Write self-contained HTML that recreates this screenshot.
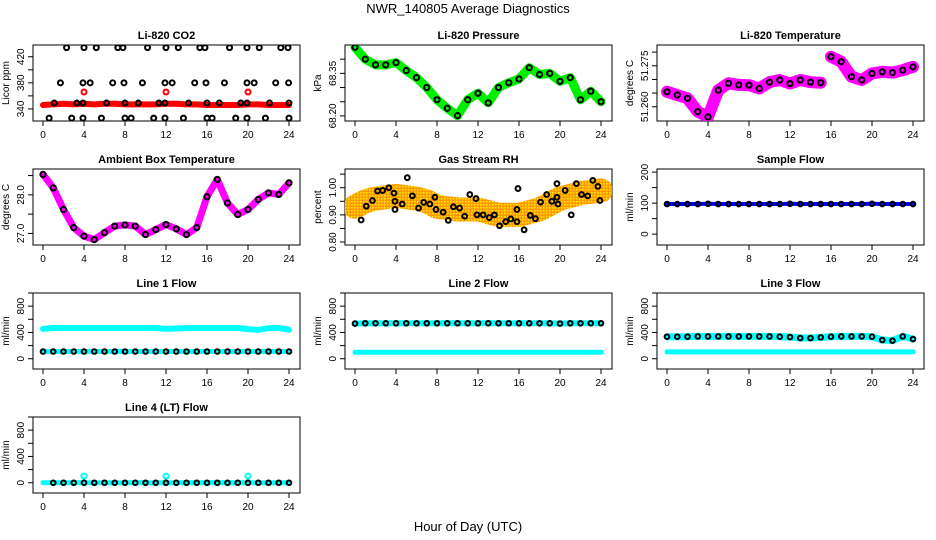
<!DOCTYPE html>
<html><head><meta charset="utf-8"><style>
html,body{margin:0;padding:0;background:#fff;}
svg{display:block;font-family:"Liberation Sans",Arial,sans-serif;}
</style></head><body>
<svg id="c" width="936" height="540" viewBox="0 0 936 540" xmlns="http://www.w3.org/2000/svg">
<defs>
<pattern id="rhpat" width="3" height="3" patternUnits="userSpaceOnUse"><rect width="3" height="3" fill="#ff9900"/><rect x="0" y="0" width="1.5" height="1.5" fill="#ffee00"/></pattern>
</defs>
<text x="468" y="13" text-anchor="middle" font-size="13">NWR_140805  Average Diagnostics</text>
<text x="468" y="531" text-anchor="middle" font-size="13">Hour of Day (UTC)</text>
</svg>
<script>
// ---- data ----
const hrs = [0,1,2,3,4,5,6,7,8,9,10,11,12,13,14,15,16,17,18,19,20,21,22,23,24];
const xTicks = [0,4,8,12,16,20,24];
// CO2
const co2Red = [346,347,348,347,348,347,348,348,347,347,347,347,348,348,347,347,346,346,346,346,347,347,346,346,346];
const co2BlkX = [2.3,4.0,5.2,7.3,7.8,10.2,12.0,13.2,15.3,15.8,18.2,19.9,21.1,23.2,23.9, 1.7,3.9,4.6,6.8,7.9,9.7,11.9,12.6,14.8,15.9,17.7,19.9,20.6,22.7,23.96, 0.6,2.8,3.9,5.7,8.0,8.6,10.8,11.9,13.7,16.0,16.5,18.8,19.9,21.7,24, 1.1,3.3,3.9,6.2,8,9.3,11.3,11.9,14.2,16,17.2,19.3,19.9,22.1,24];
const co2BlkY = [434,434,434,434,434,434,434,434,434,434,434,434,434,434,434, 380,380,380,380,380,380,380,380,380,380,380,380,380,380,380, 326,326,326,326,326,326,326,326,326,326,326,326,326,326,326, 349,349,349,349,349,349,349,349,349,349,349,349,349,349,349];
const co2RedPtX = [4,12,20];
const co2RedPtY = [366,366,366];
// Pressure
const pres = [68.442,68.40,68.38,68.38,68.388,68.36,68.335,68.30,68.257,68.227,68.201,68.257,68.28,68.246,68.30,68.317,68.33,68.37,68.346,68.35,68.322,68.335,68.257,68.287,68.25];
// Li-820 temperature
const ltemp = [51.2655,51.2643,51.2631,51.2582,51.2563,51.2661,51.2686,51.2680,51.2679,51.2667,51.2690,51.2698,51.2685,51.2698,51.2690,51.2688,51.2783,51.2765,51.2710,51.2698,51.2722,51.2728,51.2725,51.2734,51.2746];
// Ambient box temperature
const amb = [28.53,28.18,27.62,27.15,26.93,26.84,27.02,27.19,27.22,27.19,26.97,27.10,27.23,27.12,26.97,27.15,27.95,28.40,27.79,27.49,27.62,27.88,28.05,28.01,28.31];
// Gas stream RH
const rhMid = [0.93,0.95,0.96,0.965,0.97,0.965,0.96,0.95,0.93,0.925,0.92,0.92,0.92,0.91,0.90,0.90,0.90,0.91,0.92,0.94,0.96,0.97,0.98,0.985,0.99];
const rhBlkX = [0.6,1.1,1.7,2.2,2.7,3.3,3.8,3.9,3.9,4.6,5.1,5.6,6.2,6.7,7.3,7.8,7.9,8.6,9.1,9.6,10.2,10.7,11.2,11.8,11.9,12.5,13.1,13.6,14.1,14.7,15.2,15.8,15.9,15.8,16.5,17.1,17.6,18.1,18.7,19.2,19.7,19.7,19.8,20.5,21.1,21.6,22.1,22.7,23.2,23.7,23.9];
const rhBlkY = [0.881,0.932,0.953,0.988,0.99,1.00,0.98,0.92,0.95,0.94,1.037,0.97,0.925,0.946,0.94,0.965,0.92,0.91,0.88,0.93,0.925,0.895,0.975,0.96,0.90,0.90,0.89,0.90,0.86,0.875,0.885,0.92,0.997,0.875,0.845,0.898,0.886,0.947,0.975,0.95,1.015,0.965,0.94,0.99,0.90,1.015,0.975,0.97,1.027,1.005,0.953];
// Flows
const sampleFlow = [97,97,97,97,98,97,97,97,97,97,97,97,98,97,97,97,97,97,97,97,98,97,97,97,97];
const line1Hi = [455,468,468,468,468,468,468,468,468,468,468,468,455,460,465,468,468,468,468,468,450,440,465,470,440];
const line1Lo = [109,110,110,110,110,110,110,110,110,110,110,110,110,110,110,110,110,110,110,110,110,110,110,110,110];
const line2Hi = [535,540,540,540,540,540,540,540,540,540,540,540,540,540,540,540,540,540,540,540,535,540,540,540,540];
const line2Lo = [99,99,99,99,99,99,99,99,99,99,99,99,99,99,99,99,99,99,99,99,99,99,99,99,99];
const line3Hi = [335,335,335,340,340,340,340,340,340,340,340,335,330,315,315,325,335,340,340,340,335,285,275,340,300];
const line3Lo = [104,104,104,104,104,104,104,104,104,104,104,104,104,104,104,104,104,104,104,104,104,104,104,104,104];
const line4 = [0,0,0,0,0,0,0,0,0,0,0,0,0,0,0,0,0,0,0,0,0,0,0,0,0];
const line4SpikeX = [4,12,20];
const line4SpikeY = [100,100,100];
const flowTicks = [0,200,400,600,800,1000];
const flowLabels = [0,400,800];

// ---- drawing ----
const svg = document.getElementById('c');
const NS = 'http://www.w3.org/2000/svg';
function mk(tag, attrs, parent){
  const e = document.createElementNS(NS, tag);
  for (const k in attrs) e.setAttribute(k, attrs[k]);
  (parent||svg).appendChild(e);
  return e;
}
const colL = [33,345,657], rowT = [45,169,293,417], W = 267, H = 76;

function panel(col,row,title,ylab,ymin,ymax,yticks,ylabels,name){
  const L = colL[col], T = rowT[row], B = T+H, R = L+W;
  const g = mk('g',{});
  
  
  const sx = h => L + 10 + h*(W-21)/24;
  const sy = v => B - (v-ymin)/(ymax-ymin)*H;
  const box = mk('rect',{x:L,y:T,width:W,height:H,fill:'none',stroke:'#000','stroke-width':1},g);
  
  
  const t = mk('text',{x:L+W/2,y:T-6,'text-anchor':'middle','font-size':11,'font-weight':'bold'},g);
  t.textContent = title;
  
  
  const xa = mk('g',{},g);
  
  
  mk('line',{x1:sx(0),x2:sx(24),y1:B,y2:B,stroke:'#000'},xa);
  xTicks.forEach(h=>{
    mk('line',{x1:sx(h),x2:sx(h),y1:B,y2:B+5,stroke:'#000'},xa);
    const tl = mk('text',{x:sx(h),y:B+17,'text-anchor':'middle','font-size':10},xa);
    tl.textContent = h;
    
    
  });
  const ya = mk('g',{},g);
  
  
  mk('line',{x1:L,x2:L,y1:sy(yticks[0]),y2:sy(yticks[yticks.length-1]),stroke:'#000'},ya);
  yticks.forEach(v=>{ mk('line',{x1:L-5,x2:L,y1:sy(v),y2:sy(v),stroke:'#000'},ya); });
  ylabels.forEach(lb=>{
    const y = sy(lb.v);
    const tl = mk('text',{x:L-9,y:y,'text-anchor':'middle','font-size':10,transform:`rotate(-90 ${L-9} ${y})`},ya);
    tl.textContent = lb.s;
    
    
  });
  const yl = mk('text',{x:L-24,y:T+H/2,'text-anchor':'middle','font-size':10,transform:`rotate(-90 ${L-24} ${T+H/2})`},g);
  yl.textContent = ylab;
  
  
  const clip = 'clip'+name;
  const cp = mk('clipPath',{id:clip},g); mk('rect',{x:L,y:T,width:W,height:H},cp);
  const plot = mk('g',{'clip-path':`url(#${clip})`},g);
  return {sx,sy,plot,name};
}
function band(p,xs,ys,color,w,nm){
  const pts = xs.map((h,i)=>p.sx(h)+','+p.sy(ys[i])).join(' ');
  const e = mk('polyline',{points:pts,fill:'none',stroke:color,'stroke-width':w,'stroke-linejoin':'round','stroke-linecap':'round'},p.plot);
  
  
}
function circles(p,xs,ys,color,r,nm,sw){
  const g = mk('g',{},p.plot);
  
  
  xs.forEach((h,i)=>{
    const c = mk('circle',{cx:p.sx(h),cy:p.sy(ys[i]),r:r,fill:'none',stroke:color,'stroke-width':sw||2},g);
    
    
  });
}
function L(vals){return vals.map(v=>({v:v,s:String(v)}));}

// CO2
let p = panel(0,0,'Li-820 CO2','Licor ppm',321.5,438,[340,360,380,400,420],L([340,380,420]),'co2');
band(p,hrs,co2Red,'#ff0000',6,'co2-red-series');
circles(p,co2RedPtX,co2RedPtY,'#ff0000',2.5,'co2-red-points');
circles(p,co2BlkX,co2BlkY,'#000',2.5,'co2-black-points');
// Pressure
p = panel(1,0,'Li-820 Pressure','kPa',68.182,68.45,[68.20,68.25,68.30,68.35,68.40],[{v:68.20,s:'68.20'},{v:68.35,s:'68.35'}],'pressure');
band(p,hrs,pres,'#00ee00',9,'pressure-green-series');
circles(p,hrs,pres,'#000',2.6,'pressure-black-points');
// Li-820 temperature
p = panel(2,0,'Li-820 Temperature','degrees C',51.2548,51.2826,[51.260,51.265,51.270,51.275,51.280],[{v:51.260,s:'51.260'},{v:51.275,s:'51.275'}],'li820-temp');
band(p,hrs.slice(0,16),ltemp.slice(0,16),'#ff00ff',12,'li820-temp-magenta-series');
band(p,hrs.slice(16),ltemp.slice(16),'#ff00ff',12,'li820-temp-magenta-series-2');
circles(p,hrs,ltemp,'#000',2.6,'li820-temp-black-points');
// Ambient
p = panel(0,1,'Ambient Box Temperature','degrees C',26.70,28.67,[27.0,27.5,28.0,28.5],[{v:27.0,s:'27.0'},{v:28.0,s:'28.0'}],'ambient-temp');
band(p,hrs,amb,'#ff00ff',7,'ambient-temp-magenta-series');
circles(p,hrs,amb,'#000',2.6,'ambient-temp-black-points');
// RH
p = panel(1,1,'Gas Stream RH','percent',0.789,1.069,[0.80,0.85,0.90,0.95,1.00,1.05],[{v:0.80,s:'0.80'},{v:0.90,s:'0.90'},{v:1.00,s:'1.00'}],'rh');
band(p,hrs,rhMid,'url(#rhpat)',24,'rh-orange-series');
circles(p,rhBlkX,rhBlkY,'#000',2.4,'rh-black-points');
// Sample flow
p = panel(2,1,'Sample Flow','ml/min',-35,210,[0,50,100,150,200],L([0,100,200]),'sample-flow');
band(p,hrs,sampleFlow,'#0000ff',4,'sample-flow-blue-series');
circles(p,hrs,sampleFlow,'#000',2.3,'sample-flow-black-points');
// Line flows
p = panel(0,2,'Line 1 Flow','ml/min',-156,1000,flowTicks,L(flowLabels),'line1');
band(p,hrs,line1Hi,'#00ffff',6,'line1-upper-series');
band(p,hrs,line1Lo,'#00ffff',5,'line1-lower-series');
circles(p,hrs,line1Lo,'#000',2.3,'line1-black-points');
p = panel(1,2,'Line 2 Flow','ml/min',-156,1000,flowTicks,L(flowLabels),'line2');
band(p,hrs,line2Hi,'#00ffff',6,'line2-upper-series');
band(p,hrs,line2Lo,'#00ffff',5,'line2-lower-series');
circles(p,hrs,line2Hi,'#000',2.3,'line2-black-points');
p = panel(2,2,'Line 3 Flow','ml/min',-156,1000,flowTicks,L(flowLabels),'line3');
band(p,hrs,line3Hi,'#00ffff',7,'line3-upper-series');
band(p,hrs,line3Lo,'#00ffff',5,'line3-lower-series');
circles(p,hrs,line3Hi,'#000',2.3,'line3-black-points');
p = panel(0,3,'Line 4 (LT) Flow','ml/min',-156,1000,flowTicks,L(flowLabels),'line4');
band(p,hrs,line4,'#00ffff',5,'line4-cyan-series');
circles(p,line4SpikeX,line4SpikeY,'#00ffff',2.6,'line4-cyan-spikes');
circles(p,hrs.slice(1),line4.slice(1),'#000',2.3,'line4-black-points');
</script>
</body></html>
